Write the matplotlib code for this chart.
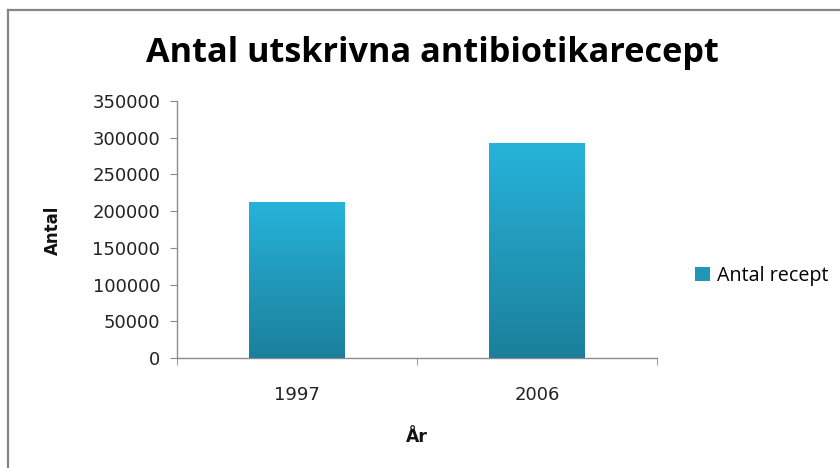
import matplotlib
matplotlib.use("Agg")
import matplotlib.pyplot as plt
import numpy as np
from matplotlib.colors import LinearSegmentedColormap
from matplotlib.lines import Line2D
from matplotlib.patches import Patch

categories = ["1997", "2006"]
values = [212000, 293000]
series_name = "Antal recept"
yticks = [0, 50000, 100000, 150000, 200000, 250000, 300000, 350000]

W, H = 840, 468
fig = plt.figure(figsize=(W / 100, H / 100), dpi=100)
ax = fig.add_axes([177 / W, 1 - 358 / H, 480 / W, 257 / H])

x = np.arange(len(categories))
bars = ax.bar(x, values, width=0.4, color="#22a3c6", zorder=2)

top_col = "#27b3da"
bot_col = "#1b7f9b"
cmap = LinearSegmentedColormap.from_list("g", [bot_col, top_col])
grad = np.linspace(0, 1, 256).reshape(-1, 1)
for b in bars:
    x0, y0 = b.get_x(), b.get_y()
    w, h = b.get_width(), b.get_height()
    im = ax.imshow(grad, cmap=cmap, origin="lower", aspect="auto",
                   extent=[x0, x0 + w, y0, y0 + h], zorder=3)
    im.set_clip_path(b)
    b.set_facecolor("none")

ax.set_xlim(-0.5, len(categories) - 0.5)
ax.set_ylim(0, 350000)
ax.set_yticks(yticks)
ax.set_yticklabels([str(v) for v in yticks])
ax.set_xticks(x)
ax.set_xticklabels(categories)
ax.set_xticks(np.arange(-0.5, len(categories), 1.0), minor=True)

for s in ["top", "right"]:
    ax.spines[s].set_visible(False)
for s in ["left", "bottom"]:
    ax.spines[s].set_color("#8c8c8c")
    ax.spines[s].set_linewidth(1.0)

ax.tick_params(axis="y", length=5, color="#8c8c8c", labelsize=13, pad=7, labelcolor="#222222")
ax.tick_params(axis="x", which="major", length=0, labelsize=13, pad=20, labelcolor="#222222")
ax.tick_params(axis="x", which="minor", length=5, color="#8c8c8c")
for lab in ax.get_xticklabels() + ax.get_yticklabels():
    lab.set_family("DejaVu Sans")

fig.text(417 / W, 1 - 437 / H, "År", ha="center", va="center",
         fontsize=12.5, fontweight="bold", family="DejaVu Sans", color="#111111")
fig.text(53 / W, 1 - 230 / H, "Antal", ha="center", va="center", rotation=90,
         fontsize=12, fontweight="bold", family="DejaVu Sans", color="#111111")

fig.text(432 / W, 1 - 53 / H, "Antal utskrivna antibiotikarecept", ha="center", va="center",
         fontsize=24.7, fontweight="bold", family="Open Sans", color="#000000")

handle = Patch(facecolor="#1f97b9", edgecolor="none")
fig.legend([handle], [series_name], loc="center left", bbox_to_anchor=(677 / W, 1 - 276 / H),
           frameon=False, handlelength=0.75, handleheight=0.75, handletextpad=0.4,
           prop={"family": "Open Sans", "size": 14.2})

# figure border
fig.add_artist(Line2D([8 / W, 8 / W], [0, 1 - 10 / H], transform=fig.transFigure,
                      color="#858585", linewidth=1.6))
fig.add_artist(Line2D([8 / W, 1], [1 - 10 / H, 1 - 10 / H], transform=fig.transFigure,
                      color="#858585", linewidth=1.6))

fig.savefig("out.png", dpi=100)
